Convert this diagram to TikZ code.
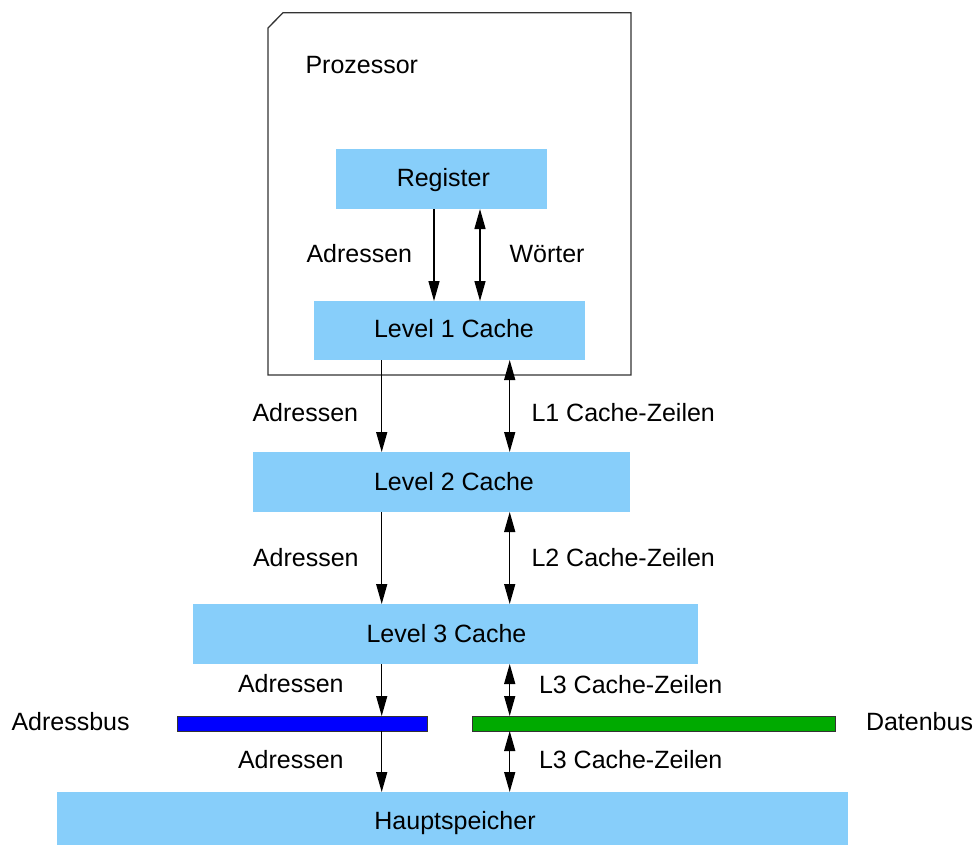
\documentclass[tikz,border=0pt]{standalone}
\usepackage{fontspec}
\setmainfont{Liberation Sans}
\usetikzlibrary{arrows.meta}
\definecolor{boxblue}{HTML}{87CEFA}
\definecolor{busblue}{HTML}{0000FF}
\definecolor{busgreen}{HTML}{00AA00}
\definecolor{edge}{HTML}{333333}
\begin{document}
\begin{tikzpicture}[x=1pt,y=-1pt,
  box/.style={fill=boxblue, draw=none, inner sep=0pt, outer sep=0pt},
  bus/.style={draw=edge, line width=1pt, inner sep=0pt, outer sep=0pt, minimum height=15pt},
  txt/.style={font=\fontsize{25}{30}\selectfont, inner sep=0pt, outer sep=0pt},
  lbl/.style={txt, anchor=base west},
  ctr/.style={txt, anchor=base},
  arr/.style={line width=1.4pt, -{Triangle[length=20pt,width=11pt]}},
  darr/.style={line width=1.4pt, {Triangle[length=20pt,width=11pt]}-{Triangle[length=20pt,width=11pt]}}
]
\useasboundingbox (0,0) rectangle (973,845);
% processor outline
\draw[draw=edge, line width=1.3pt] (268,28) -- (283,12.7) -- (631,12.7) -- (631,375) -- (268,375) -- cycle;
\node[lbl] (prozt) at (305.5,74) {Prozessor};

% boxes
\node[box, minimum width=211pt, minimum height=60pt] (reg) at (441.5,179) {};
\node[box, minimum width=271pt, minimum height=59pt] (l1) at (449.5,330.5) {};
\node[box, minimum width=377pt, minimum height=60pt] (l2) at (441.5,482) {};
\node[box, minimum width=505pt, minimum height=60pt] (l3) at (445.5,634) {};
\node[box, minimum width=791pt, minimum height=53pt] (hs) at (452.5,818.5) {};

\node[ctr] (regt) at (443.3,186.7) {Register};
\node[ctr] (l1t) at (454,337.7) {Level 1 Cache};
\node[ctr] (l2t) at (454,490) {Level 2 Cache};
\node[ctr] (l3t) at (446.5,642) {Level 3 Cache};
\node[ctr] (hst) at (455,829.5) {Hauptspeicher};

% buses
\node[bus, fill=busblue, minimum width=250pt] (abus) at (302,723.5) {};
\node[bus, fill=busgreen, minimum width=363pt] (dbus) at (653.5,723.5) {};
\node[lbl] (abt) at (11.5,730.7) {Adressbus};
\node[lbl] (dbt) at (866,730) {Datenbus};

% x positions of connectors
\coordinate (xa) at (434,0);
\coordinate (xw) at (480,0);
\coordinate (xb) at (381.7,0);
\coordinate (xc) at (509.7,0);

% connectors
\draw[arr] (xa |- reg.south) -- (xa |- l1.north);
\draw[darr] (xw |- reg.south) -- (xw |- l1.north);
\draw[arr] (xb |- l1.south) -- (xb |- l2.north);
\draw[darr] (xc |- l1.south) -- (xc |- l2.north);
\draw[arr] (xb |- l2.south) -- (xb |- l3.north);
\draw[darr] (xc |- l2.south) -- (xc |- l3.north);
\draw[arr] (xb |- l3.south) -- (xb |- abus.north);
\draw[darr] (xc |- l3.south) -- (xc |- dbus.north);
\draw[arr] (xb |- abus.south) -- (xb |- hs.north);
\draw[darr] (xc |- dbus.south) -- (xc |- hs.north);

% connector labels
\node[lbl] (a1) at (306.5,262) {Adressen};
\node[lbl] (w1) at (509.5,262) {Wörter};
\node[lbl] (a2) at (252.5,421) {Adressen};
\node[lbl] (c2) at (531.5,421) {L1 Cache-Zeilen};
\node[lbl] (a3) at (253,566.7) {Adressen};
\node[lbl] (c3) at (531.5,566.7) {L2 Cache-Zeilen};
\node[lbl] (a4) at (238,692.7) {Adressen};
\node[lbl] (c4) at (539,693.3) {L3 Cache-Zeilen};
\node[lbl] (a5) at (238,768.3) {Adressen};
\node[lbl] (c5) at (539,768) {L3 Cache-Zeilen};
\end{tikzpicture}
\end{document}
